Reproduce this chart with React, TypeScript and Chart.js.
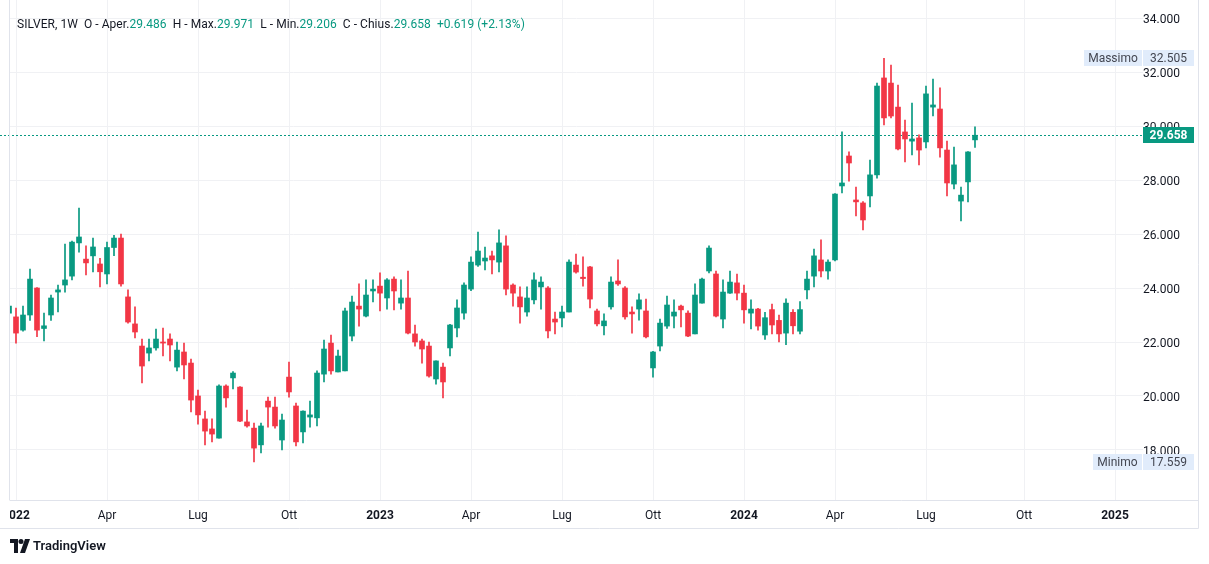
import React, { useEffect, useRef } from 'react';
import { Chart, registerables } from 'chart.js';

Chart.register(...registerables);

const SYMBOL = 'SILVER, 1W';
const FIRST_WEEK = '2021-12-27';

const opens = [
  23.07, 22.93, 22.44, 23.0, 24.0, 22.5, 23.0, 23.85, 24.11, 24.44, 25.67, 25.07, 25.19, 24.89, 24.52, 25.5, 25.85, 23.67, 22.67, 21.85,
  21.59, 21.78, 22.0, 22.11, 21.07, 21.63, 21.22, 20.0, 19.15, 18.78, 18.44, 20.37, 20.67, 20.33, 19.04, 18.81, 18.19, 19.81, 19.59, 18.37,
  20.7, 19.63, 18.67, 19.22, 19.19, 20.81, 21.96, 20.89, 20.93, 22.22, 23.33, 22.96, 23.89, 24.07, 23.63, 24.33, 23.44, 23.63, 22.3, 22.04,
  21.85, 20.63, 21.07, 21.78, 22.52, 23.07, 23.96, 24.85, 25.0, 25.19, 24.96, 25.56, 24.11, 23.67, 23.11, 23.56, 24.04, 24.0, 22.85, 22.89,
  23.11, 24.85, 24.4, 24.78, 23.15, 22.6, 23.3, 24.26, 24.0, 23.11, 23.22, 23.15, 21.04, 21.85, 22.59, 22.96, 23.33, 23.07, 22.3, 23.44,
  24.63, 24.52, 22.85, 23.81, 24.19, 23.81, 23.07, 23.22, 22.26, 23.2, 22.8, 22.33, 23.1, 22.4, 23.93, 24.44, 25.04, 24.63, 25.04, 27.78,
  28.89, 27.26, 27.15, 27.41, 28.19, 31.78, 31.59, 30.7, 29.78, 29.44, 29.56, 29.41, 30.7, 30.63, 29.11, 27.85, 27.22, 27.93, 29.486,
];
const highs = [
  23.35, 23.26, 23.33, 24.7, 24.02, 23.07, 23.74, 24.11, 25.63, 25.74, 26.96, 25.56, 25.85, 25.1, 25.7, 25.95, 26.0, 23.93, 23.3, 22.11,
  22.11, 22.48, 22.52, 22.3, 22.0, 21.96, 21.37, 20.22, 19.44, 19.15, 20.41, 20.41, 20.9, 20.35, 19.48, 19.0, 19.0, 19.96, 19.96, 19.33,
  21.26, 19.74, 19.45, 19.81, 20.93, 22.07, 22.26, 21.7, 23.26, 23.7, 24.15, 24.3, 24.3, 24.56, 24.35, 24.41, 24.3, 24.63, 22.63, 22.11,
  22.0, 21.3, 21.22, 22.65, 23.56, 24.19, 25.15, 26.07, 25.52, 25.37, 26.15, 25.93, 24.15, 24.04, 24.04, 24.56, 24.41, 24.05, 23.11, 23.33,
  25.04, 25.26, 25.15, 24.8, 23.22, 23.04, 24.41, 25.04, 24.05, 23.3, 23.78, 23.59, 21.65, 22.85, 23.7, 23.56, 23.37, 23.15, 24.15, 24.37,
  25.56, 24.63, 24.3, 24.63, 24.52, 24.11, 23.56, 23.25, 23.1, 23.4, 23.0, 23.6, 23.2, 23.5, 24.63, 25.44, 25.78, 25.04, 27.5, 29.78,
  29.04, 27.74, 27.2, 28.74, 31.59, 32.505, 32.26, 31.52, 30.22, 30.85, 29.67, 31.48, 31.74, 31.41, 29.44, 29.22, 27.74, 29.05, 29.971,
];
const lows = [
  23.0, 21.96, 22.4, 22.8, 22.2, 22.04, 22.8, 23.11, 23.85, 24.3, 25.33, 24.48, 24.6, 24.04, 24.15, 25.2, 24.07, 22.7, 22.15, 20.48,
  21.3, 21.7, 21.48, 21.3, 20.93, 20.63, 19.41, 18.96, 18.19, 18.3, 18.44, 19.59, 20.26, 19.05, 18.85, 17.559, 17.89, 18.85, 18.81, 18.0,
  19.96, 18.15, 18.26, 18.85, 18.89, 20.52, 20.81, 20.89, 20.93, 22.04, 22.59, 22.93, 23.48, 23.15, 23.22, 23.19, 23.22, 22.3, 21.85, 21.22,
  20.7, 20.44, 19.93, 21.48, 22.19, 22.85, 23.9, 24.8, 24.67, 24.52, 24.6, 23.74, 23.33, 22.7, 22.96, 23.41, 23.22, 22.15, 22.3, 22.56,
  23.11, 24.55, 24.07, 23.26, 22.6, 22.26, 23.22, 24.1, 22.85, 22.33, 22.81, 22.15, 20.7, 21.67, 22.5, 22.52, 22.56, 22.2, 22.3, 23.44,
  24.56, 22.93, 22.52, 23.8, 23.56, 22.7, 22.48, 22.44, 22.1, 22.3, 22.0, 21.9, 22.3, 22.3, 23.6, 24.04, 24.41, 24.33, 25.0, 27.52,
  27.96, 26.67, 26.15, 27.0, 28.07, 30.04, 30.3, 29.11, 28.67, 28.93, 28.56, 29.19, 30.37, 28.85, 27.41, 27.67, 26.48, 27.19, 29.206,
];
const closes = [
  23.33, 22.33, 23.0, 24.33, 22.44, 22.6, 23.63, 23.93, 24.3, 25.7, 25.89, 24.93, 25.52, 24.6, 25.5, 25.85, 24.15, 22.74, 22.37, 21.11,
  21.78, 22.11, 21.96, 21.89, 21.7, 21.15, 19.85, 19.3, 18.7, 18.59, 20.37, 19.93, 20.85, 19.07, 18.89, 18.07, 18.89, 19.59, 18.89, 19.11,
  20.15, 18.3, 19.44, 19.3, 20.85, 21.74, 20.93, 21.48, 23.15, 23.48, 23.22, 23.74, 23.96, 23.81, 24.3, 23.89, 23.63, 22.33, 22.0, 21.74,
  20.74, 21.3, 20.52, 22.63, 23.26, 24.11, 24.96, 25.37, 25.11, 25.04, 25.67, 23.96, 23.81, 23.3, 23.63, 24.3, 24.22, 22.41, 22.74, 23.11,
  24.96, 24.59, 24.35, 23.59, 22.67, 22.78, 24.22, 24.15, 22.93, 23.04, 23.56, 22.19, 21.63, 22.7, 23.37, 23.11, 23.19, 22.22, 23.74, 24.33,
  25.48, 22.96, 23.85, 24.22, 23.81, 23.19, 23.22, 22.59, 22.9, 22.63, 22.3, 23.44, 22.6, 23.2, 24.33, 25.19, 24.63, 24.96, 27.48, 27.89,
  28.63, 27.19, 26.52, 28.19, 31.48, 30.3, 30.37, 29.15, 29.52, 29.52, 29.11, 31.19, 30.78, 29.19, 27.89, 28.56, 27.44, 29.04, 29.658,
];

// first weekly bar of each labelled month
const xTickDates = [
  '2022-01-03', '2022-04-04', '2022-07-04', '2022-10-03', '2023-01-02', '2023-04-03', '2023-07-03',
  '2023-10-02', '2024-01-01', '2024-04-01', '2024-07-01', '2024-10-07', '2025-01-06',
];
const xTickLabels = ['2022', 'Apr', 'Lug', 'Ott', '2023', 'Apr', 'Lug', 'Ott', '2024', 'Apr', 'Lug', 'Ott', '2025'];
const yTickValues = [18, 20, 22, 24, 26, 28, 30, 32, 34];

const LAST_PRICE = 29.658;
const HIGHEST = 32.505;
const LOWEST = 17.559;

const GREEN = '#089981';
const RED = '#f23645';
const TEXT = '#131722';
const GRID = '#f0f1f4';
const FRAME = '#e0e3eb';
const FONT = 'Roboto, "Noto Sans", sans-serif';

const DAY = 86400000;
const EPOCH = Date.UTC(2022, 0, 1);
const dayOf = (s: string) => {
  const [y, m, d] = s.split('-').map(Number);
  return (Date.UTC(y, m - 1, d) - EPOCH) / DAY;
};

export default function App() {
  const ref = useRef<HTMLCanvasElement>(null);

  useEffect(() => {
    document.body.style.margin = '0';
    const canvas = ref.current;
    if (!canvas) return;
    const first = dayOf(FIRST_WEEK);
    const xs = opens.map((_, i) => first + 7 * i);
    const colors = opens.map((o, i) => (closes[i] >= o ? GREEN : RED));
    const tickDays = xTickDates.map(dayOf);

    const tagPlugin = {
      id: 'tags',
      beforeDatasetsDraw(chart: any) {
        const { ctx, chartArea, scales } = chart;
        const yp = Math.round(scales.y.getPixelForValue(LAST_PRICE)) + 0.5;
        ctx.save();
        ctx.strokeStyle = GREEN;
        ctx.lineWidth = 1;
        ctx.setLineDash([2, 2]);
        ctx.beginPath();
        ctx.moveTo(0, yp);
        ctx.lineTo(chartArea.right, yp);
        ctx.stroke();
        ctx.restore();
      },
      afterDraw(chart: any) {
        const { ctx, chartArea, scales } = chart;
        const left = chartArea.right;
        const boxW = 51;
        const boxH = 16;
        ctx.save();
        // clip the time labels at the left edge of the pane
        ctx.fillStyle = '#ffffff';
        ctx.fillRect(0, chartArea.bottom + 1, chartArea.left, 27);
        ctx.textBaseline = 'middle';
        const drawTag = (value: number, label: string | null, bg: string, fg: string, bold: boolean) => {
          const yc = Math.round(scales.y.getPixelForValue(value));
          const top = yc - boxH / 2;
          ctx.fillStyle = bg;
          ctx.fillRect(left, top, boxW, boxH);
          ctx.font = `${bold ? 'bold ' : ''}12px ${FONT}`;
          ctx.fillStyle = fg;
          ctx.textAlign = 'center';
          ctx.fillText(value.toFixed(3), left + boxW / 2, yc + 0.5);
          if (label) {
            ctx.font = `12px ${FONT}`;
            const w = Math.ceil(ctx.measureText(label).width) + 8;
            ctx.fillStyle = bg;
            ctx.fillRect(left - 1 - w, top, w, boxH);
            ctx.fillStyle = '#434651';
            ctx.fillText(label, left - 1 - w / 2, yc + 0.5);
          }
        };
        drawTag(HIGHEST, 'Massimo', '#e1ecfb', '#434651', false);
        drawTag(LOWEST, 'Minimo', '#e1ecfb', '#434651', false);
        drawTag(LAST_PRICE, null, GREEN, '#ffffff', true);
        // pane frame
        const rightEdge = chart.width - 10.5;
        const axisBottom = chartArea.bottom + 28.5;
        ctx.strokeStyle = FRAME;
        ctx.lineWidth = 1;
        ctx.beginPath();
        ctx.moveTo(chartArea.left - 0.5, chartArea.bottom + 0.5);
        ctx.lineTo(rightEdge, chartArea.bottom + 0.5);
        ctx.moveTo(0, axisBottom);
        ctx.lineTo(rightEdge, axisBottom);
        ctx.moveTo(rightEdge, 0);
        ctx.lineTo(rightEdge, axisBottom);
        ctx.moveTo(chartArea.left - 0.5, 0);
        ctx.lineTo(chartArea.left - 0.5, chartArea.bottom);
        ctx.stroke();
        ctx.restore();
      },
    };

    const chart = new Chart(canvas, {
      type: 'bar',
      data: {
        datasets: [
          {
            label: 'wick',
            data: xs.map((x, i) => ({ x, y: [lows[i], highs[i]] })) as any,
            backgroundColor: colors,
            barThickness: 1,
            grouped: false,
            borderWidth: 0,
            order: 2,
          } as any,
          {
            label: 'body',
            data: xs.map((x, i) => ({ x, y: [opens[i], closes[i]] })) as any,
            backgroundColor: colors,
            barThickness: 5,
            grouped: false,
            borderWidth: 0,
            minBarLength: 1,
            order: 1,
          } as any,
        ],
      },
      options: {
        responsive: false,
        animation: false,
        devicePixelRatio: 1,
        layout: { padding: { left: 10, right: 11, top: 0, bottom: 34 } },
        plugins: { legend: { display: false }, tooltip: { enabled: false } },
        scales: {
          x: {
            type: 'linear',
            offset: false,
            min: -4,
            max: 1129,
            border: { display: false },
            grid: { color: GRID, drawTicks: false, offset: false },
            afterBuildTicks: (scale: any) => {
              scale.ticks = tickDays.map((v) => ({ value: v }));
            },
            afterFit: (scale: any) => {
              scale.height = 30;
              scale.paddingLeft = 0;
              scale.paddingRight = 0;
            },
            ticks: {
              autoSkip: false,
              maxRotation: 0,
              padding: 9,
              color: TEXT,
              font: (c: any) => ({
                family: FONT,
                size: 12,
                weight: /^\d+$/.test(xTickLabels[c.index] || '') ? 'bold' : 'normal',
              }),
              callback: (_v: any, i: number) => xTickLabels[i],
            },
          },
          y: {
            type: 'linear',
            position: 'right',
            min: 16.148,
            max: 34.667,
            border: { display: false },
            grid: { color: GRID, drawTicks: false },
            afterBuildTicks: (scale: any) => {
              scale.ticks = yTickValues.map((v) => ({ value: v }));
            },
            afterFit: (scale: any) => {
              scale.width = 55;
              scale.paddingTop = 0;
              scale.paddingBottom = 0;
            },
            ticks: {
              crossAlign: 'center',
              padding: 0,
              labelOffset: 2,
              color: TEXT,
              font: { family: FONT, size: 12 },
              callback: (v: any) => Number(v).toFixed(3),
            },
          },
        },
      } as any,
      plugins: [tagPlugin],
    });
    return () => chart.destroy();
  }, []);

  const label = { color: TEXT };
  const val = { color: GREEN };
  return (
    <div style={{ position: 'relative', width: 1209, height: 564, background: '#fff', fontFamily: FONT, overflow: 'hidden' }}>
      <canvas ref={ref} width={1209} height={564} style={{ display: 'block' }} />
      <div style={{ position: 'absolute', left: 17, top: 16, fontSize: 12, lineHeight: '16px', whiteSpace: 'pre', letterSpacing: 0.05 }}>
        <span style={label}>{SYMBOL}  O - Aper.</span>
        <span style={val}>{opens[opens.length - 1].toFixed(3)}</span>
        <span style={label}>  H - Max.</span>
        <span style={val}>{highs[highs.length - 1].toFixed(3)}</span>
        <span style={label}>  L - Min.</span>
        <span style={val}>{lows[lows.length - 1].toFixed(3)}</span>
        <span style={label}>  C - Chius.</span>
        <span style={val}>{closes[closes.length - 1].toFixed(3)}</span>
        <span style={val}>  +0.619 (+2.13%)</span>
      </div>
      <div style={{ position: 'absolute', left: 10, top: 538, display: 'flex', alignItems: 'center', gap: 3 }}>
        <svg width="20" height="14" viewBox="0 0 20 14">
          <path d="M0 0h8v14H4V4H0z" fill={TEXT} />
          <circle cx="11" cy="2.5" r="2.5" fill={TEXT} />
          <path d="M15 0h5l-5 14h-5z" fill={TEXT} />
        </svg>
        <span style={{ fontSize: 13, fontWeight: 600, color: TEXT, lineHeight: '16px' }}>TradingView</span>
      </div>
    </div>
  );
}
